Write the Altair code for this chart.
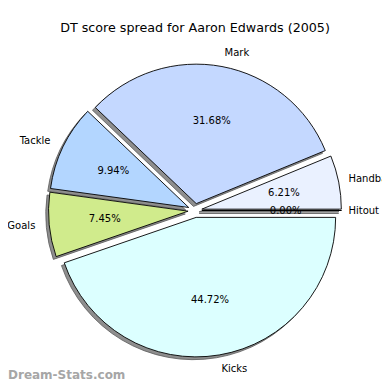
import math
import altair as alt
import pandas as pd

# ---- data ----
categories = ["Hitout", "Handball", "Mark", "Tackle", "Goals", "Kicks"]
scores = [0, 20, 102, 32, 24, 144]
colors = ["#eef0ff", "#eaf1ff", "#c4d8ff", "#b3d6ff", "#d0eb8c", "#dcffff"]
title_text = "DT score spread for Aaron Edwards (2005)"
watermark_text = ["Dream-Stats.com"]

total = sum(scores)
df = pd.DataFrame({"part": categories, "score": scores,
                   "order": list(range(len(categories)))})

EXPLODE = 0.05
R = 139.5
CX, CY = 187.0, 202.5
FONT = "DejaVu Sans"
LABEL_SIZE = 10
MAX_LABEL_X = 1.10  # keep right-hand labels inside the page

xs = alt.Scale(domain=[-1, 1], range=[CX - R, CX + R])
ys = alt.Scale(domain=[-1, 1], range=[CY + R, CY - R])
ts = alt.Scale(domain=[0, total], range=[2.5 * math.pi, 0.5 * math.pi])

base = alt.Chart(df).transform_window(
    end="sum(score)", sort=[alt.SortField("order")], frame=[None, 0]
).transform_calculate(
    start="datum.end - datum.score",
    ang=f"2*PI*(datum.end - datum.score/2)/{total}",
    pct=f"format(100*datum.score/{total}, '.2f') + '%'",
).transform_calculate(
    dx=f"{EXPLODE}*cos(datum.ang)",
    dy=f"{EXPLODE}*sin(datum.ang)",
).transform_calculate(
    sx="datum.dx - 0.02",
    sy="datum.dy - 0.02",
    lx=f"min(datum.dx + 1.1*cos(datum.ang), {MAX_LABEL_X})",
    ly="datum.dy + 1.1*sin(datum.ang)",
    px="datum.dx + 0.6*cos(datum.ang)",
    py="datum.dy + 0.6*sin(datum.ang)",
)

theta = alt.Theta("start:Q", scale=ts, stack=None)

shadow = base.mark_arc(outerRadius=R, fill="#8e8e8e", stroke="#5a5a5a",
                       strokeWidth=0.8).encode(
    x=alt.X("sx:Q", scale=xs, axis=None),
    y=alt.Y("sy:Q", scale=ys, axis=None),
    theta=theta, theta2="end:Q",
)

wedges = base.mark_arc(outerRadius=R, stroke="black", strokeWidth=0.9).encode(
    x=alt.X("dx:Q", scale=xs, axis=None),
    y=alt.Y("dy:Q", scale=ys, axis=None),
    theta=theta, theta2="end:Q",
    color=alt.Color("part:N", scale=alt.Scale(domain=categories, range=colors),
                    legend=None),
)

labels_r = base.transform_filter("datum.lx >= 0").mark_text(
    align="left", baseline="middle", font=FONT, fontSize=LABEL_SIZE, color="black"
).encode(x=alt.X("lx:Q", scale=xs, axis=None),
         y=alt.Y("ly:Q", scale=ys, axis=None), text="part:N")

labels_l = base.transform_filter("datum.lx < 0").mark_text(
    align="right", baseline="middle", font=FONT, fontSize=LABEL_SIZE, color="black"
).encode(x=alt.X("lx:Q", scale=xs, axis=None),
         y=alt.Y("ly:Q", scale=ys, axis=None), text="part:N")

pcts = base.mark_text(
    align="center", baseline="middle", font=FONT, fontSize=LABEL_SIZE, color="black"
).encode(x=alt.X("px:Q", scale=xs, axis=None),
         y=alt.Y("py:Q", scale=ys, axis=None), text="pct:N")

wm = alt.Chart(pd.DataFrame({"t": watermark_text})).mark_text(
    align="left", baseline="alphabetic", font=FONT, fontSize=12,
    fontWeight="bold", color="#a6a6a6"
).encode(x=alt.value(0), y=alt.value(370.5), text="t:N")

chart = alt.layer(shadow, wedges, labels_r, labels_l, pcts, wm).properties(
    width=374, height=374,
    autosize=alt.AutoSizeParams(type="none"),
    padding=0,
    background="white",
    title=alt.TitleParams(title_text, font=FONT, fontSize=12.7,
                          fontWeight="normal", anchor="middle", frame="group",
                          offset=-27, color="black"),
).configure_view(stroke=None)

chart.save("out.html", embed_options={"renderer": "svg", "actions": False})
